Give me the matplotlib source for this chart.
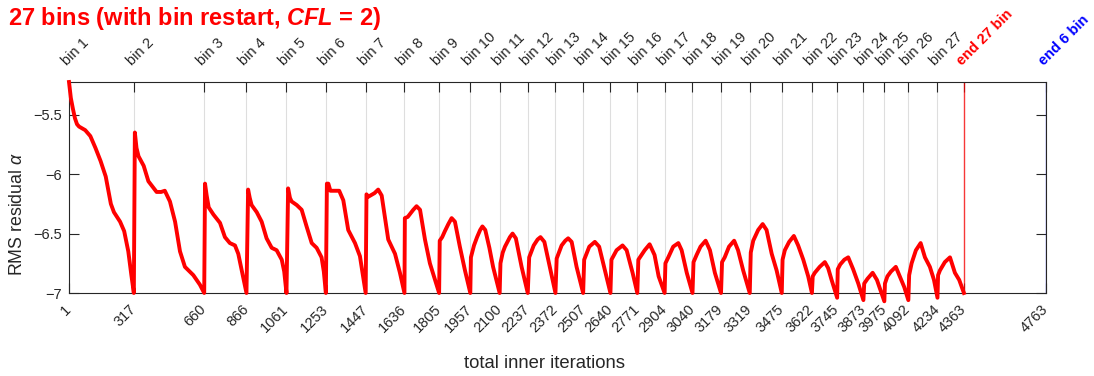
import matplotlib.pyplot as plt
from matplotlib.transforms import blended_transform_factory, ScaledTranslation

plt.rcParams['font.family'] = ['Liberation Sans', 'DejaVu Sans']
plt.rcParams['mathtext.fontset'] = 'custom'
plt.rcParams['mathtext.rm'] = 'Liberation Sans'
plt.rcParams['mathtext.it'] = 'Liberation Sans:italic'
plt.rcParams['mathtext.bf'] = 'Liberation Sans:bold'
plt.rcParams['mathtext.bfit'] = 'Liberation Sans:bold:italic'

# first inner iteration of each bin
bin_starts = [1, 317, 660, 866, 1061, 1253, 1447, 1636, 1805, 1957, 2100, 2237,
              2372, 2507, 2640, 2771, 2904, 3040, 3179, 3319, 3475, 3622, 3745,
              3873, 3975, 4092, 4234]
bin_labels = ['bin %d' % (i + 1) for i in range(len(bin_starts))]
end_27 = 4363
end_6 = 4763

# RMS residual (log10) vs total inner iterations
iters = [
    1, 10, 20, 30, 40, 50, 80, 105, 130, 155, 180, 205, 220, 250, 270, 290, 305, 317,       # bin 1
    322, 330, 340, 365, 388, 410, 428, 450, 468, 493, 518, 542, 566, 607, 639, 660,          # bin 2
    664, 672, 682, 705, 737, 761, 785, 810, 826, 843, 866,                                   # bin 3
    874, 882, 891, 916, 940, 964, 989, 1013, 1038, 1050, 1061,                               # bin 4
    1069, 1078, 1086, 1111, 1135, 1159, 1184, 1208, 1232, 1243, 1253,                        # bin 5
    1258, 1265, 1275, 1300, 1318, 1338, 1362, 1395, 1419, 1447,                              # bin 6
    1451, 1460, 1470, 1490, 1508, 1525, 1557, 1590, 1614, 1636,                              # bin 7
    1638, 1652, 1679, 1695, 1712, 1736, 1760, 1785, 1805,                                    # bin 8
    1808, 1820, 1833, 1850, 1866, 1882, 1906, 1931, 1957,                                    # bin 9
    1960, 1975, 1990, 2005, 2016, 2030, 2050, 2068, 2100,                                    # bin 10
    2104, 2115, 2126, 2150, 2163, 2179, 2207, 2237,                                          # bin 11
    2244, 2266, 2285, 2299, 2318, 2348, 2372,                                                # bin 12
    2378, 2402, 2420, 2434, 2451, 2475, 2507,                                                # bin 13
    2512, 2537, 2564, 2585, 2613, 2640,                                                      # bin 14
    2645, 2670, 2699, 2719, 2748, 2771,                                                      # bin 15
    2776, 2807, 2831, 2855, 2875, 2904,                                                      # bin 16
    2908, 2922, 2946, 2971, 2987, 3012, 3040,                                                # bin 17
    3045, 3060, 3079, 3104, 3125, 3149, 3179,                                                # bin 18
    3184, 3197, 3218, 3243, 3262, 3287, 3319,                                                # bin 19
    3324, 3336, 3360, 3382, 3401, 3426, 3450, 3475,                                          # bin 20
    3479, 3490, 3511, 3534, 3555, 3580, 3604, 3622,                                          # bin 21
    3626, 3636, 3660, 3685, 3701, 3718, 3745,                                                # bin 22
    3748, 3760, 3780, 3799, 3823, 3848, 3873,                                                # bin 23
    3877, 3893, 3918, 3939, 3955, 3975,                                                      # bin 24
    3978, 3990, 4007, 4031, 4048, 4072, 4092,                                                # bin 25
    4096, 4108, 4129, 4152, 4173, 4197, 4217, 4234,                                          # bin 26
    4237, 4246, 4270, 4295, 4319, 4340, 4363,                                                # bin 27
]
resid = [
    -5.225, -5.36, -5.45, -5.53, -5.58, -5.60, -5.63, -5.68, -5.78, -5.89, -6.02, -6.25, -6.32, -6.40, -6.48, -6.65, -6.85, -7.0,
    -5.65, -5.78, -5.85, -5.93, -6.06, -6.11, -6.15, -6.15, -6.14, -6.23, -6.40, -6.65, -6.78, -6.85, -6.93, -7.0,
    -6.08, -6.18, -6.28, -6.34, -6.41, -6.53, -6.58, -6.60, -6.67, -6.81, -7.0,
    -6.13, -6.20, -6.26, -6.32, -6.40, -6.54, -6.62, -6.64, -6.72, -6.82, -7.0,
    -6.12, -6.20, -6.23, -6.26, -6.30, -6.44, -6.58, -6.62, -6.70, -6.82, -7.0,
    -6.08, -6.08, -6.14, -6.14, -6.14, -6.22, -6.47, -6.58, -6.69, -7.0,
    -6.17, -6.19, -6.18, -6.16, -6.13, -6.18, -6.55, -6.67, -6.83, -7.0,
    -6.37, -6.36, -6.30, -6.27, -6.30, -6.55, -6.75, -6.89, -7.0,
    -6.56, -6.53, -6.48, -6.42, -6.37, -6.40, -6.61, -6.81, -7.0,
    -6.70, -6.60, -6.53, -6.47, -6.44, -6.47, -6.62, -6.78, -7.0,
    -6.75, -6.66, -6.61, -6.53, -6.50, -6.54, -6.78, -7.0,
    -6.70, -6.60, -6.55, -6.53, -6.57, -6.81, -7.0,
    -6.71, -6.60, -6.56, -6.54, -6.57, -6.78, -7.0,
    -6.72, -6.61, -6.57, -6.61, -6.81, -7.0,
    -6.72, -6.64, -6.60, -6.64, -6.83, -7.0,
    -6.72, -6.64, -6.59, -6.68, -6.86, -7.0,
    -6.75, -6.70, -6.61, -6.58, -6.64, -6.83, -7.0,
    -6.74, -6.68, -6.61, -6.56, -6.64, -6.83, -7.0,
    -6.74, -6.70, -6.61, -6.56, -6.64, -6.81, -7.0,
    -6.66, -6.56, -6.47, -6.42, -6.47, -6.67, -6.81, -7.0,
    -6.72, -6.64, -6.57, -6.52, -6.60, -6.72, -6.86, -7.0,
    -6.86, -6.83, -6.78, -6.74, -6.79, -6.89, -7.04,
    -6.80, -6.76, -6.72, -6.70, -6.80, -6.92, -7.06,
    -6.92, -6.88, -6.83, -6.89, -6.97, -7.07,
    -6.92, -6.86, -6.82, -6.78, -6.85, -6.95, -7.06,
    -6.85, -6.75, -6.64, -6.58, -6.70, -6.78, -6.89, -7.04,
    -6.85, -6.81, -6.74, -6.70, -6.83, -6.89, -7.0,
]

yticks = [-7, -6.5, -6, -5.5]
ytick_labels = ['\u22127', '\u22126.5', '\u22126', '\u22125.5']

dark = '#262626'

fig = plt.figure(figsize=(10.94, 3.76), dpi=100)
ax = fig.add_axes([69 / 1094, 83 / 376, 977 / 1094, 211 / 376])

ax.grid(axis='x', color='#dedede', lw=0.8)
ax.set_axisbelow(True)
ax.axvline(end_27, color='red', lw=1.0, alpha=0.75)
ax.axvline(end_6, color='blue', lw=1.0, alpha=0.6)
ax.plot(iters, resid, color='red', lw=2.8, clip_on=False, solid_joinstyle='round', zorder=3)

ax.set_xlim(1, end_6)
ax.set_ylim(-7, -5.225)

xticks = bin_starts + [end_27, end_6]
ax.set_xticks(xticks)
ax.set_xticklabels([])
ax.set_yticks(yticks)
ax.set_yticklabels(ytick_labels, fontsize=10.5, color=dark)
ax.tick_params(direction='in', length=7, width=0.8, color=dark, top=True, right=True)
ax.tick_params(axis='y', pad=5)
for sp in ax.spines.values():
    sp.set_color(dark)
    sp.set_linewidth(0.8)

# iteration numbers along the bottom
bottom = blended_transform_factory(ax.transData, ax.transAxes) + \
    ScaledTranslation(-5 / 100, -9 / 100, fig.dpi_scale_trans)
for x in xticks:
    ax.text(x, 0, str(x), transform=bottom, rotation=45, ha='right', va='top',
            rotation_mode='anchor', fontsize=10.5, color=dark)

# bin labels along the top
top = blended_transform_factory(ax.transData, ax.transAxes) + \
    ScaledTranslation(-2 / 100, 16 / 100, fig.dpi_scale_trans)
for x, lbl in zip(bin_starts, bin_labels):
    ax.text(x, 1, lbl, transform=top, rotation=45, ha='left', va='baseline',
            rotation_mode='anchor', fontsize=10.5, color=dark)
ax.text(end_27, 1, 'end 27 bin', transform=top, rotation=45, ha='left', va='baseline',
        rotation_mode='anchor', fontsize=10.5, color='red', fontweight='bold')
ax.text(end_6, 1, 'end 6 bin', transform=top, rotation=45, ha='left', va='baseline',
        rotation_mode='anchor', fontsize=10.5, color='blue', fontweight='bold')

fig.text(544 / 1094, 1 - 364 / 376, 'total inner iterations', ha='center', va='center',
         fontsize=13.3, color=dark)
fig.text(17.5 / 1094, 1 - 214 / 376, r'RMS residual $\alpha$', rotation=90, ha='center',
         va='center', fontsize=12.8, color=dark)
fig.text(8 / 1094, 1 - 19 / 376, r'27 bins (with bin restart, $\mathbfit{CFL}$ = 2)',
         ha='left', va='center', fontsize=17, fontweight='bold', color='red')

fig.savefig('out.png', dpi=100)
